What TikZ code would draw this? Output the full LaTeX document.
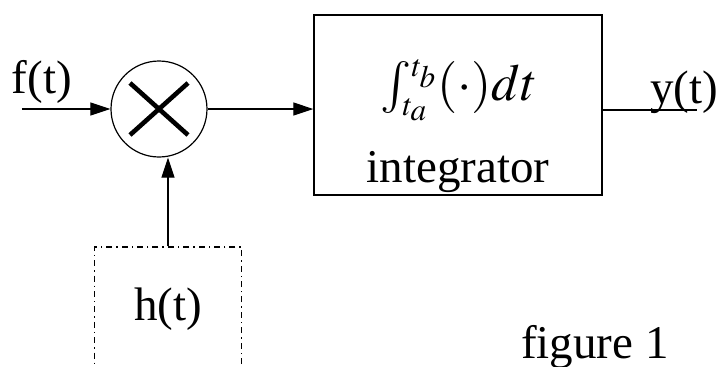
\documentclass[tikz,border=0pt]{standalone}
\usepackage{mathptmx}
\usepackage{fontspec}
\setmainfont{Liberation Serif}
\usetikzlibrary{arrows.meta, positioning}

\begin{document}
\begin{tikzpicture}[
  x=0.5pt, y=-0.5pt,
  sig/.style={font=\fontsize{23.5}{28}\selectfont, inner sep=0pt},
  mixer/.style={draw, circle, minimum size=48pt, inner sep=0pt, line width=0.6pt,
    path picture={\draw[line width=2.3pt]
      ([shift={(-14.5pt,-13pt)}]path picture bounding box.center) -- ([shift={(14.5pt,13pt)}]path picture bounding box.center)
      ([shift={(-14.5pt,13pt)}]path picture bounding box.center) -- ([shift={(14.5pt,-13pt)}]path picture bounding box.center);}},
  blockbox/.style={draw, line width=0.7pt, minimum width=144pt, minimum height=90pt},
  hbox/.style={draw, line width=0.7pt, dash dot, minimum width=73.5pt, minimum height=62pt, font=\fontsize{23.5}{28}\selectfont},
  arr/.style={-{Triangle[length=10pt, width=6.5pt]}, line width=0.6pt}
]
  \useasboundingbox (0,0) rectangle (720,366);

  \node[mixer] (mult) at (159,109) {};
  \node[blockbox] (integ) at (458,105) {};
  \node[sig, font=\fontsize{26}{30}\selectfont] (formula) at (459,90)
    {$\int_{\scriptscriptstyle t_a}^{\scriptscriptstyle t_b}(\cdot)dt$};
  \node[sig, anchor=base] (integlabel) at (458,182) {integrator};
  \node[hbox] (h) at (168,309) {h(t)};

  \node[sig] (flabel) at (42,82) {f(t)};
  \coordinate (fin) at (22,109);
  \node[sig] (ylabel) at (684,92) {y(t)};
  \coordinate (yout) at (697,110);

  \node[sig, anchor=base] (caption) at (595,358) {figure 1};

  \draw[arr] (fin) -- (mult.west);
  \draw[arr] (mult.east) -- (mult.east -| integ.west);
  \draw[arr] (h.north) -- (h.north |- mult.south);
  \draw[line width=0.6pt] (integ.east |- yout) -- (yout);
\end{tikzpicture}
\end{document}
